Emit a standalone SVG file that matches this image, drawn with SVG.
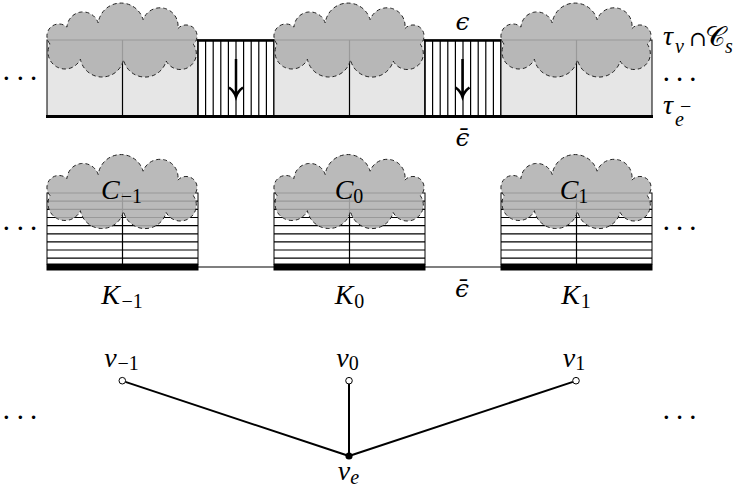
<svg xmlns="http://www.w3.org/2000/svg" width="744" height="487" viewBox="0 0 744 487">
<style>
.t{font-family:"Liberation Serif","DejaVu Serif",serif;font-size:28px;fill:#000}
.e{font-family:"DejaVu Serif",serif;font-size:25px;font-style:italic;fill:#000}
.d{font-family:"Liberation Serif","DejaVu Serif",serif;font-size:29px;fill:#000}
.i{font-style:italic}
.s{font-size:20px;font-style:normal}
.si{font-size:20px;font-style:italic}
.lbox{fill:#e6e6e6;stroke:#000;stroke-width:1}
.wbox{fill:#fff;stroke:#000;stroke-width:1}
.ln{stroke:#000;stroke-width:1.2;fill:none}
.thick{stroke:#000;stroke-width:2.5;fill:none}
.arrow{stroke:#000;stroke-width:2.5;fill:none}
.edge{stroke:#000;stroke-width:2;fill:none}
.open{fill:#fff;stroke:#000;stroke-width:1}
</style>
<defs>
<path id="cloud" fill="#b0b0b0" fill-opacity="0.87" stroke="#222" stroke-width="1" stroke-dasharray="4 3" d="M3 4 A12 12 0 0 1 20 -12.9 A16 16 0 0 1 51.2 -17 A23 23 0 0 1 96.1 -20.3 A18 18 0 0 1 130.8 -11.3 A11 11 0 1 1 146.35 4.2 A16 16 0 1 1 119.2 21 A22 22 0 0 1 76.5 19.66 A22 22 0 0 1 33.4 19.2 A17 17 0 1 1 3 4 Z"/>
<g id="hatchv">
<path class="ln" d="M7.6 0V76M15.2 0V76M22.8 0V76M30.4 0V76M38 0V76M45.6 0V76M53.2 0V76M60.8 0V76M68.4 0V76"/>
</g>
<g id="kbox">
<rect class="wbox" x="0" y="0" width="151" height="71"/>
<path class="ln" d="M0 8.2H151M0 16.3H151M0 24.5H151M0 32.6H151M0 40.8H151M0 48.9H151M0 57H151M0 65.2H151M75.5 0V71"/>
<rect x="-0.5" y="71" width="152" height="6.5" fill="#000"/>
</g>
</defs>

<!-- top row -->
<g id="top-row">
  <g id="tau-box-1">
    <rect class="lbox" x="47" y="40" width="151" height="76"/>
    <path class="ln" d="M122.5 40V116"/>
  </g>
  <g id="strip-1">
    <rect class="wbox" x="198" y="40" width="76" height="76"/>
    <use href="#hatchv" transform="translate(198 40)"/>
    <path class="ln" stroke-width="1.5" d="M198 40V116M274 40V116"/>
    <path class="thick" d="M197 40.5H275"/>
    <path class="arrow" d="M236 59V96.5M229 87.5Q234 91 236 97Q238 91 243 87.5"/>
  </g>
  <g id="tau-box-2">
    <rect class="lbox" x="274" y="40" width="151" height="76"/>
    <path class="ln" d="M349.5 40V116"/>
  </g>
  <g id="strip-2">
    <rect class="wbox" x="425" y="40" width="76" height="76"/>
    <use href="#hatchv" transform="translate(425 40)"/>
    <path class="ln" stroke-width="1.5" d="M425 40V116M501 40V116"/>
    <path class="thick" d="M424 40.5H502"/>
    <path class="arrow" d="M462.5 59V96.5M455.5 87.5Q460.5 91 462.5 97Q464.5 91 469.5 87.5"/>
  </g>
  <g id="tau-box-3">
    <rect class="lbox" x="501" y="40" width="151" height="76"/>
    <path class="ln" d="M576.5 40V116"/>
  </g>
  <path d="M46 116.5H653" stroke="#000" stroke-width="3"/>
  <use href="#cloud" transform="translate(47 40)"/>
  <use href="#cloud" transform="translate(274 40)"/>
  <use href="#cloud" transform="translate(501 40)"/>
  <text class="e" x="462.5" y="29.5" text-anchor="middle">ϵ</text>
  <text class="e" x="462.5" y="145.5" text-anchor="middle">ϵ̄</text>
  <text class="d" x="1.4 15.4 28.7" y="88">···</text>
  <text class="d" x="661.4 674.7 688.1" y="89">···</text>
  <text class="t i" x="663" y="45">τ<tspan class="si" x="675" dy="7.5">v</tspan><tspan x="689" dy="-6.5" font-family="DejaVu Serif" font-size="21px" font-style="normal">∩</tspan><tspan x="705" font-style="normal">𝒞</tspan><tspan class="si" x="725" dy="6.5">s</tspan></text>
  <text class="t i" x="663" y="114">τ<tspan class="si" x="675" dy="12">e</tspan><tspan class="s" x="680" dy="-13.5">−</tspan></text>
</g>

<!-- middle row -->
<g id="connectors-mid">
  <path class="ln" d="M198 267H274M425 267H501"/>
</g>
<g id="K-1">
  <use href="#kbox" transform="translate(47 193)"/>
  <use href="#cloud" transform="translate(47 191.5)"/>
  <text class="t" x="121.5" y="199" text-anchor="middle"><tspan class="i">C</tspan><tspan class="s" dy="4" dx="1">−1</tspan></text>
  <text class="t" x="122" y="303.5" text-anchor="middle"><tspan class="i">K</tspan><tspan class="s" dy="4" dx="1.5">−1</tspan></text>
</g>
<g id="K0">
  <use href="#kbox" transform="translate(274 193)"/>
  <use href="#cloud" transform="translate(274 191.5)"/>
  <text class="t" x="349" y="199" text-anchor="middle"><tspan class="i">C</tspan><tspan class="s" dy="4">0</tspan></text>
  <text class="t" x="349.5" y="303.5" text-anchor="middle"><tspan class="i">K</tspan><tspan class="s" dy="4" dx="1">0</tspan></text>
</g>
<g id="K1">
  <use href="#kbox" transform="translate(501 193)"/>
  <use href="#cloud" transform="translate(501 191.5)"/>
  <text class="t" x="574" y="199" text-anchor="middle"><tspan class="i">C</tspan><tspan class="s" dy="4">1</tspan></text>
  <text class="t" x="576" y="303.5" text-anchor="middle"><tspan class="i">K</tspan><tspan class="s" dy="4" dx="1">1</tspan></text>
</g>
<text class="e" x="462" y="296.5" text-anchor="middle">ϵ̄</text>
<text class="d" x="1.4 15.4 28.7" y="238">···</text>
<text class="d" x="661.4 674.7 688.1" y="238">···</text>

<!-- bottom graph -->
<g id="edges">
  <path class="edge" d="M125.4 381.9L349 456M349 384V456M572.9 381.9L349 456"/>
</g>
<g id="v-1">
  <circle class="open" cx="122.3" cy="380.7" r="3.3"/>
  <text class="t" x="121.5" y="367" text-anchor="middle"><tspan class="i">v</tspan><tspan class="s" dy="2.5" dx="1">−1</tspan></text>
</g>
<g id="v0">
  <circle class="open" cx="349" cy="380.7" r="3.3"/>
  <text class="t" x="347.5" y="367" text-anchor="middle"><tspan class="i">v</tspan><tspan class="s" dy="2.5">0</tspan></text>
</g>
<g id="v1">
  <circle class="open" cx="576" cy="380.7" r="3.3"/>
  <text class="t" x="574" y="367" text-anchor="middle"><tspan class="i">v</tspan><tspan class="s" dy="2.5">1</tspan></text>
</g>
<g id="ve">
  <circle cx="349" cy="456" r="3.6" fill="#000"/>
  <text class="t" x="348.5" y="480" text-anchor="middle"><tspan class="i">v</tspan><tspan class="si" dy="3.5">e</tspan></text>
</g>
<text class="d" x="1.4 15.4 28.7" y="427">···</text>
<text class="d" x="661.4 674.7 688.1" y="427">···</text>
</svg>
